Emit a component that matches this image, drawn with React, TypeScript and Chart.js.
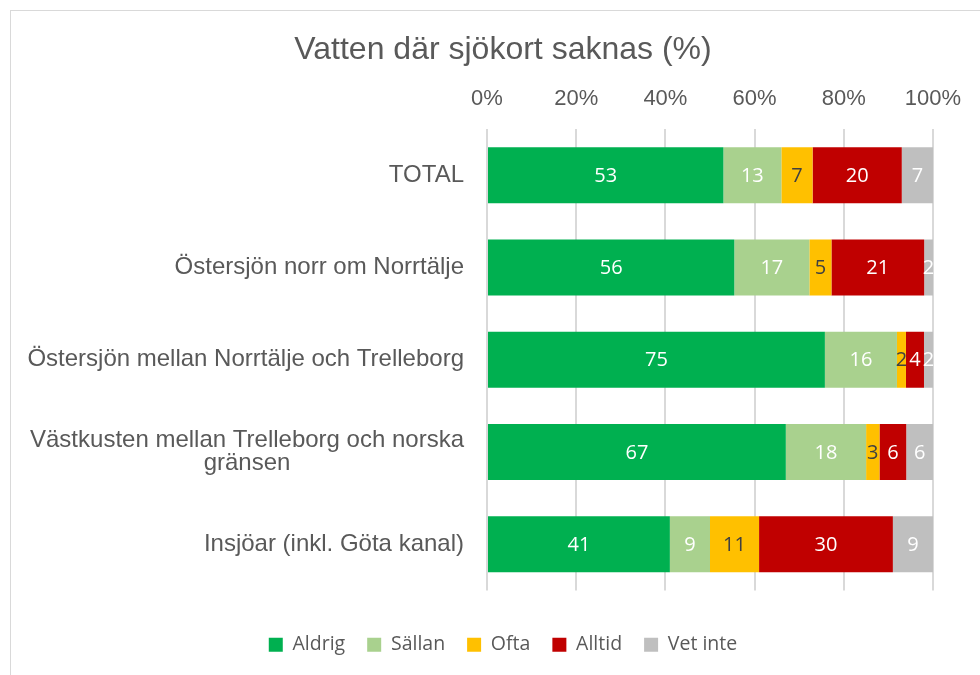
import React, { useEffect, useRef } from 'react';
import { Chart, registerables } from 'chart.js';

Chart.register(...registerables);

// ---- data ----
const categories: string[][] = [
  ['TOTAL'],
  ['Östersjön norr om Norrtälje'],
  ['Östersjön mellan Norrtälje och Trelleborg'],
  ['Västkusten mellan Trelleborg och norska', 'gränsen'],
  ['Insjöar (inkl. Göta kanal)'],
];
const seriesNames = ['Aldrig', 'Sällan', 'Ofta', 'Alltid', 'Vet inte'];
const aldrig = [53, 56, 75, 67, 41];
const sallan = [13, 17, 16, 18, 9];
const ofta = [7, 5, 2, 3, 11];
const alltid = [20, 21, 4, 6, 30];
const vetInte = [7, 2, 2, 6, 9];
const xTickValues = [0, 20, 40, 60, 80, 100];
const chartTitle = 'Vatten där sjökort saknas (%)';

const seriesColors = ['#00B050', '#A9D18E', '#FFC000', '#C00000', '#BFBFBF'];
const labelColors = ['#FFFFFF', '#FFFFFF', '#404040', '#FFFFFF', '#FFFFFF'];

const FONT = '"Liberation Sans", Arial, sans-serif';
const LABEL_FONT = '"Open Sans", "Noto Sans", sans-serif';
const TEXT = '#595959';

const allSeries = [aldrig, sallan, ofta, alltid, vetInte];
const totals = categories.map((_, i) => allSeries.reduce((s, arr) => s + arr[i], 0));

const dataLabelPlugin = {
  id: 'dataLabels',
  afterDatasetsDraw(chart: any) {
    const { ctx } = chart;
    ctx.save();
    ctx.font = `20px ${LABEL_FONT}`;
    ctx.textAlign = 'center';
    ctx.textBaseline = 'middle';
    chart.data.datasets.forEach((ds: any, di: number) => {
      const meta = chart.getDatasetMeta(di);
      if (meta.hidden) return;
      meta.data.forEach((el: any, i: number) => {
        const raw = ds.rawValues[i];
        const cx = (el.x + el.base) / 2;
        ctx.fillStyle = ds.labelColor;
        ctx.fillText(String(raw), cx, el.y + 1);
      });
    });
    ctx.restore();
  },
};

const yLabelPlugin = {
  id: 'yLabels',
  afterDraw(chart: any) {
    const { ctx } = chart;
    const y = chart.scales.y;
    const right = y.right - 23;
    ctx.save();
    ctx.font = `24px ${FONT}`;
    ctx.fillStyle = TEXT;
    ctx.textAlign = 'center';
    ctx.textBaseline = 'middle';
    const lh = 23;
    categories.forEach((lines, i) => {
      const cy = y.getPixelForValue(i);
      const maxW = Math.max(...lines.map((l) => ctx.measureText(l).width));
      const cx = right - maxW / 2;
      lines.forEach((l, j) => {
        ctx.fillText(l, cx, cy + (j - (lines.length - 1) / 2) * lh);
      });
    });
    ctx.restore();
  },
};

export default function App() {
  const canvasRef = useRef<HTMLCanvasElement | null>(null);

  useEffect(() => {
    if (!canvasRef.current) return;
    const datasets = allSeries.map((arr, si) => ({
      label: seriesNames[si],
      data: arr.map((v, i) => (v / totals[i]) * 100),
      rawValues: arr,
      labelColor: labelColors[si],
      backgroundColor: seriesColors[si],
      borderWidth: 0,
      barPercentage: 0.607,
      categoryPercentage: 1,
    }));
    const chart = new Chart(canvasRef.current, {
      type: 'bar',
      data: {
        labels: categories.map((c) => c.join(' ')),
        datasets: datasets as any,
      },
      options: {
        animation: false,
        responsive: true,
        maintainAspectRatio: false,
        indexAxis: 'y',
        layout: { padding: { top: 0, left: 0, right: 0, bottom: 10.5 } },
        plugins: {
          title: {
            display: true,
            text: chartTitle,
            color: TEXT,
            font: { family: FONT, size: 32, weight: 'normal' },
            padding: { top: 20, bottom: 0 },
          },
          legend: {
            display: true,
            position: 'bottom',
            labels: {
              color: TEXT,
              font: { family: LABEL_FONT, size: 19.5 },
              boxWidth: 14,
              boxHeight: 14,
              padding: 22,
            },
          },
          tooltip: { enabled: false },
        },
        scales: {
          x: {
            type: 'linear',
            position: 'top',
            stacked: true,
            min: 0,
            max: 100,
            afterBuildTicks: (scale: any) => {
              scale.ticks = xTickValues.map((v) => ({ value: v }));
            },
            ticks: {
              color: TEXT,
              font: { family: FONT, size: 22 },
              padding: 16.5,
              callback: (v: any) => `${v}%`,
            },
            grid: { color: '#D9D9D9', lineWidth: 2, drawTicks: false },
            border: { display: false },
            afterFit: (scale: any) => {
              scale.height = 118 - 58.4;
            },
          },
          x2: {
            type: 'linear',
            position: 'bottom',
            display: true,
            ticks: { display: false },
            grid: { display: false },
            border: { display: false },
            afterFit: (scale: any) => {
              scale.height = 22.5;
            },
          },
          y: {
            type: 'category',
            stacked: true,
            ticks: { display: false },
            grid: { display: false },
            border: { display: false },
            afterFit: (scale: any) => {
              scale.width = 476;
            },
          },
          y2: {
            type: 'linear',
            position: 'right',
            display: true,
            ticks: { display: false },
            grid: { display: false },
            border: { display: false },
            afterFit: (scale: any) => {
              scale.width = 62;
            },
          },
        },
      } as any,
      plugins: [dataLabelPlugin, yLabelPlugin],
    });
    return () => chart.destroy();
  }, []);

  return (
    <div
      style={{
        position: 'fixed',
        left: 0,
        top: 0,
        width: 980,
        height: 675,
        overflow: 'hidden',
        background: '#fff',
      }}
    >
      <div
        style={{
          position: 'absolute',
          left: 10,
          top: 10,
          width: 1000,
          height: 700,
          border: '1px solid #D9D9D9',
          boxSizing: 'border-box',
        }}
      />
      <div style={{ position: 'absolute', left: 11, top: 11, width: 984, height: 664 }}>
        <canvas ref={canvasRef} />
      </div>
    </div>
  );
}
